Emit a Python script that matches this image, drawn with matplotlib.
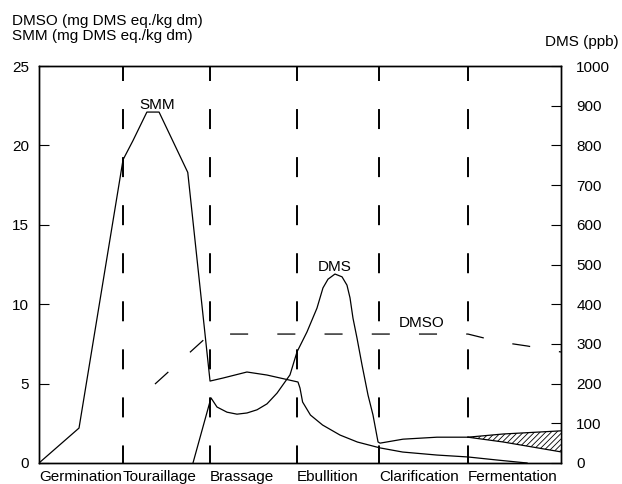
import matplotlib.pyplot as plt
import numpy as np

plt.rcParams['font.family'] = ['Liberation Sans', 'DejaVu Sans']
plt.rcParams['lines.scale_dashes'] = False
plt.rcParams['hatch.linewidth'] = 0.6

# stages (x in stage units, 0..6)
stages = ['Germination', 'Touraillage', 'Brassage', 'Ebullition', 'Clarification', 'Fermentation']
bounds = [0, 0.966, 1.966, 2.966, 3.908, 4.931]

# SMM (mg DMS eq./kg dm), left axis
smm_x = [0, 0.46, 0.966, 1.08, 1.24, 1.38, 1.71, 1.966, 2.115, 2.39, 2.62, 2.977,
         3.0, 3.03, 3.12, 3.26, 3.46, 3.66, 3.92, 4.18, 4.575, 4.93, 5.26, 5.61]
smm_y = [0, 2.2, 19.1, 20.3, 22.1, 22.1, 18.3, 5.16, 5.35, 5.73, 5.54, 5.10,
         4.72, 3.84, 3.02, 2.39, 1.76, 1.32, 0.95, 0.69, 0.50, 0.38, 0.19, 0.0]

# DMSO (mg DMS eq./kg dm), left axis
dmso_x = [1.333, 1.966, 4.931, 5.30, 5.61, 6.0]
dmso_y = [4.97, 8.12, 8.12, 7.62, 7.37, 6.99]

# DMS (ppb), right axis
dms_x = [1.770, 1.977, 2.046, 2.161, 2.276, 2.391, 2.506, 2.621, 2.736, 2.885, 2.966,
         3.080, 3.195, 3.264, 3.322, 3.402, 3.483, 3.540, 3.575, 3.609, 3.655, 3.713,
         3.782, 3.839, 3.897, 3.920, 4.184, 4.575, 4.931]
dms_y = [0, 164, 141, 128, 123, 126, 134, 149, 176, 222, 280,
         330, 390, 441, 463, 476, 469, 448, 416, 365, 315, 247,
         171, 121, 53, 50, 60, 65, 65]
ferm_x = [4.931, 5.333, 6.0]
ferm_hi = [65, 73, 81]
ferm_lo = [65, 53, 28]

fig = plt.figure(figsize=(6.22, 4.84), dpi=100)
ax = fig.add_axes([0.0627, 0.0434, 0.8392, 0.8202])
ax.set_xlim(0, 6)
ax.set_ylim(0, 25)
ax.set_xticks([])
ax.set_yticks(range(0, 26, 5))
ax.tick_params(axis='y', direction='in', length=7, width=0.8, labelsize=11, pad=7)
for s in ax.spines.values():
    s.set_linewidth(1.0)

ax2 = ax.twinx()
ax2.set_ylim(0, 1000)
ax2.set_yticks(range(0, 1001, 100))
ax2.tick_params(axis='y', direction='in', length=7, width=0.8, labelsize=11, pad=11)
for s in ax2.spines.values():
    s.set_linewidth(1.0)

# stage boundaries
for b in bounds[1:]:
    ax.plot([b, b], [25, 0], color='black', lw=1.4, ls=(3.6, (14.4, 20.2)))

ax.plot(smm_x, smm_y, color='black', lw=0.9)
ax.plot(dmso_x, dmso_y, color='black', lw=0.9, ls=(0, (13.0, 21.0)))
ax2.plot(dms_x, dms_y, color='black', lw=0.9)
ax2.fill_between(ferm_x, ferm_lo, ferm_hi, facecolor='white', edgecolor='black',
                 hatch='//////', linewidth=0)
ax2.plot(ferm_x, ferm_hi, color='black', lw=0.9)
ax2.plot(ferm_x, ferm_lo, color='black', lw=0.9)

ax.text(1.356, 22.55, 'SMM', ha='center', va='center', fontsize=11)
ax.text(3.40, 12.34, 'DMS', ha='center', va='center', fontsize=11)
ax.text(4.40, 8.82, 'DMSO', ha='center', va='center', fontsize=11)

trans = ax.get_xaxis_transform()
for b, name in zip(bounds, stages):
    ax.text(b, -0.035, name, transform=trans, ha='left', va='center', fontsize=11)

fig.text(0.019, 0.957, 'DMSO (mg DMS eq./kg dm)', ha='left', va='center', fontsize=11)
fig.text(0.019, 0.926, 'SMM (mg DMS eq./kg dm)', ha='left', va='center', fontsize=11)
fig.text(0.876, 0.913, 'DMS (ppb)', ha='left', va='center', fontsize=11)

fig.savefig('out.png', dpi=100)
